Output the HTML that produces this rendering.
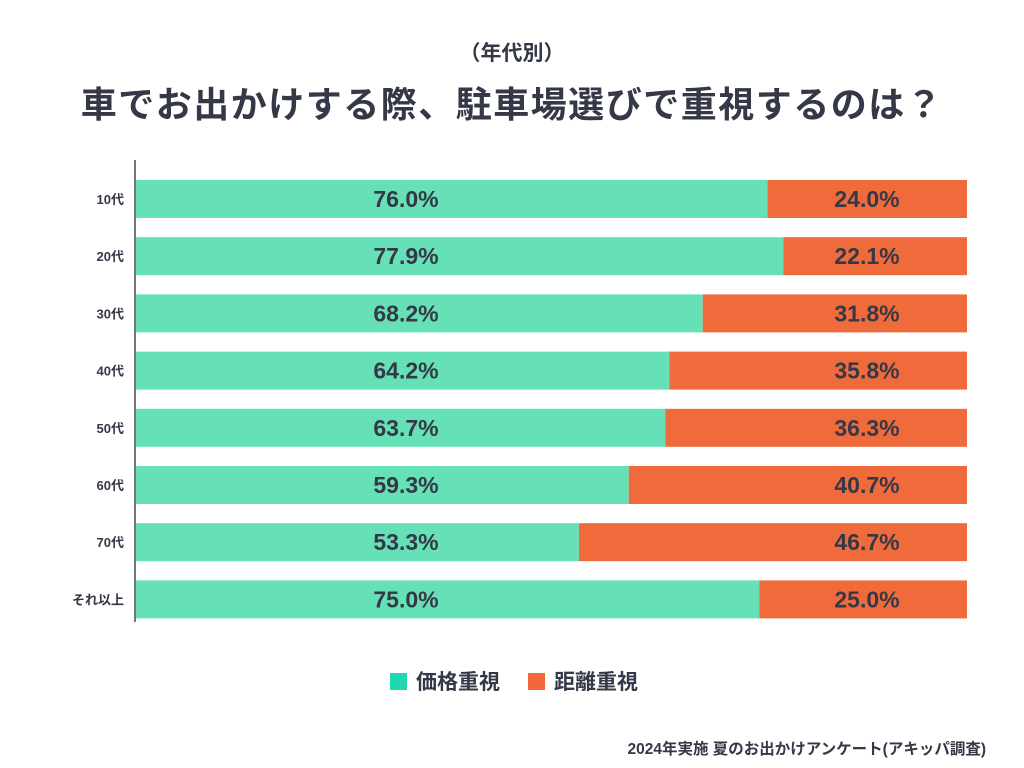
<!DOCTYPE html>
<html><head><meta charset="utf-8"><style>
body{margin:0;width:1024px;height:768px;background:#fff;font-family:"Liberation Sans","Noto Sans CJK JP",sans-serif;color:#343847;position:relative;overflow:hidden}
.t{position:absolute;left:0;width:1024px;text-align:center;font-weight:bold}
</style></head><body>
<div class="t" style="top:37px;font-size:21px">（年代別）</div>
<div class="t" style="top:76px;font-size:36px;letter-spacing:1.5px">車でお出かけする際、駐車場選びで重視するのは？</div>
<svg id="c" width="1024" height="768" style="position:absolute;left:0;top:0"></svg>
<div style="position:absolute;top:666px;left:390px;font-size:21px;font-weight:bold;display:flex;align-items:center">
<span style="width:17px;height:17px;background:#1fd8b0;display:inline-block;margin-right:9px"></span><span>価格重視</span>
<span style="width:17px;height:17px;background:#f2683a;display:inline-block;margin:0 9px 0 28px"></span><span>距離重視</span>
</div>
<div style="position:absolute;right:38px;top:737px;font-size:15.5px;font-weight:bold">2024年実施 夏のお出かけアンケート(アキッパ調査)</div>
<script>
const categories=["10代","20代","30代","40代","50代","60代","70代","それ以上"];
const priceValues=[76.0,77.9,68.2,64.2,63.7,59.3,53.3,75.0];
const distanceValues=[24.0,22.1,31.8,35.8,36.3,40.7,46.7,25.0];
const svg=document.getElementById('c');const NS='http://www.w3.org/2000/svg';
const x0=136,x1=967,yTop=180,step=57.2,bh=38;
const xs=v=>x0+(x1-x0)*v/100;
function mk(t,a){const e=document.createElementNS(NS,t);for(const k in a)e.setAttribute(k,a[k]);svg.appendChild(e);return e;}
categories.forEach((c,i)=>{
 const y=yTop+i*step;
 const r1=mk('rect',{x:x0,y:y,width:xs(priceValues[i])-x0,height:bh,fill:'#66e0b6'});
 
 
 const xa=xs(priceValues[i]);
 const r2=mk('rect',{x:xa,y:y,width:xs(priceValues[i]+distanceValues[i])-xa,height:bh,fill:'#ef6b3c'});
 
 
 const l=mk('text',{x:124,y:y+bh/2+5,'text-anchor':'end','font-size':13,'font-weight':'bold',fill:'#343847'});l.textContent=c;
 
 
 const t1=mk('text',{x:406,y:y+bh/2+8,'text-anchor':'middle','font-size':23,'font-weight':'bold',fill:'#343847'});t1.textContent=priceValues[i].toFixed(1)+'%';
 
 
 const t2=mk('text',{x:867,y:y+bh/2+8,'text-anchor':'middle','font-size':23,'font-weight':'bold',fill:'#343847'});t2.textContent=distanceValues[i].toFixed(1)+'%';
 
 
});
const ax=mk('line',{x1:135,y1:160,x2:135,y2:622,stroke:'#777','stroke-width':2});


</script>
</body></html>
